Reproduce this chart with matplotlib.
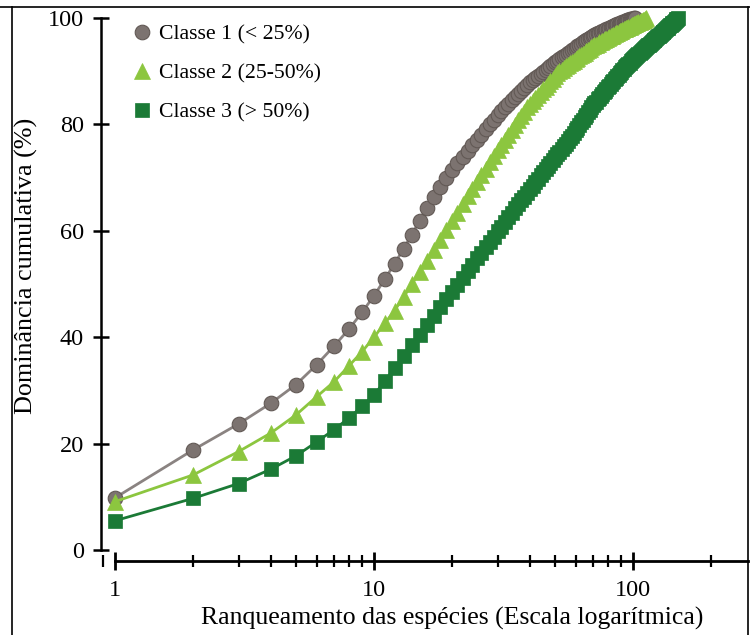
import matplotlib
matplotlib.use("Agg")
import matplotlib.pyplot as plt
from matplotlib.lines import Line2D
from matplotlib.ticker import LogLocator, NullFormatter, FixedLocator, FixedFormatter

plt.rcParams['font.family'] = ['Liberation Serif', 'DejaVu Serif']

# ---------------- data ----------------
classe1 = [9.8, 18.8, 23.7, 27.6, 31.1, 34.8, 38.3, 41.5, 44.7, 47.8,
           50.9, 53.8, 56.6, 59.3, 61.9, 64.2, 66.3, 68.2, 69.9, 71.4,
           72.7, 73.9, 75.0, 76.1, 77.1, 78.1, 79.1, 80.0, 80.9, 81.8,
           82.5, 83.2, 83.9, 84.5, 85.1, 85.7, 86.3, 86.9, 87.4, 87.9,
           88.3, 88.7, 89.1, 89.5, 89.9, 90.3, 90.6, 91.0, 91.3, 91.7,
           92.0, 92.3, 92.6, 92.9, 93.1, 93.4, 93.7, 93.9, 94.2, 94.4,
           94.7, 94.9, 95.1, 95.4, 95.6, 95.8, 96.0, 96.2, 96.5, 96.7,
           96.8, 97.0, 97.1, 97.2, 97.4, 97.5, 97.6, 97.8, 97.9, 98.0,
           98.1, 98.3, 98.4, 98.5, 98.6, 98.7, 98.8, 98.9, 99.0, 99.1,
           99.2, 99.3, 99.4, 99.5, 99.6, 99.66, 99.72, 99.78, 99.84, 99.9,
           99.95, 100.0]

classe2 = [9.1, 14.1, 18.5, 22.0, 25.4, 28.8, 31.6, 34.6, 37.3, 40.0,
           42.6, 45.0, 47.5, 50.0, 52.3, 54.4, 56.4, 58.3, 60.1, 61.8,
           63.4, 65.0, 66.5, 67.9, 69.2, 70.5, 71.7, 72.9, 74.0, 75.1,
           76.1, 77.1, 78.1, 79.0, 79.9, 80.8, 81.6, 82.4, 83.2, 83.8,
           84.4, 85.0, 85.5, 86.1, 86.6, 87.1, 87.6, 88.1, 88.6, 89.1,
           89.6, 90.0, 90.3, 90.6, 90.9, 91.2, 91.5, 91.7, 92.0, 92.3,
           92.5, 92.8, 93.0, 93.3, 93.5, 93.8, 94.0, 94.2, 94.5, 94.7,
           94.9, 95.0, 95.2, 95.4, 95.5, 95.7, 95.8, 96.0, 96.1, 96.3,
           96.4, 96.6, 96.7, 96.8, 97.0, 97.1, 97.2, 97.4, 97.5, 97.6,
           97.8, 97.9, 98.0, 98.1, 98.2, 98.3, 98.4, 98.5, 98.6, 98.7,
           98.8, 98.9, 99.0, 99.1, 99.2, 99.3, 99.4, 99.5, 99.6, 99.7,
           99.85, 100.0]

classe3 = [5.5, 9.7, 12.5, 15.2, 17.7, 20.3, 22.6, 24.8, 27.0, 29.1,
           31.75, 34.2, 36.4, 38.5, 40.5, 42.3, 44.0, 45.6, 47.1, 48.5,
           49.9, 51.2, 52.4, 53.6, 54.8, 55.9, 56.9, 57.9, 58.9, 59.9,
           60.8, 61.7, 62.6, 63.4, 64.2, 65.0, 65.7, 66.4, 67.1, 67.8,
           68.5, 69.1, 69.8, 70.4, 71.0, 71.6, 72.2, 72.7, 73.3, 73.8,
           74.4, 74.9, 75.4, 75.9, 76.4, 76.9, 77.4, 77.9, 78.4, 78.9,
           79.4, 79.9, 80.4, 80.9, 81.4, 81.8, 82.3, 82.7, 83.2, 83.6,
           84.0, 84.3, 84.7, 85.0, 85.3, 85.7, 86.0, 86.3, 86.6, 87.0,
           87.3, 87.6, 87.9, 88.2, 88.5, 88.8, 89.1, 89.3, 89.6, 89.9,
           90.2, 90.5, 90.7, 91.0, 91.2, 91.4, 91.6, 91.9, 92.1, 92.3,
           92.5, 92.7, 92.9, 93.1, 93.3, 93.5, 93.7, 93.8, 94.0, 94.2,
           94.4, 94.5, 94.7, 94.9, 95.0, 95.2, 95.3, 95.5, 95.6, 95.8,
           95.95, 96.1, 96.25, 96.4, 96.55, 96.7, 96.85, 97.0, 97.15, 97.3,
           97.45, 97.6, 97.75, 97.9, 98.05, 98.2, 98.35, 98.5, 98.6, 98.75,
           98.9, 99.0, 99.15, 99.3, 99.45, 99.6, 99.75, 99.9, 100.0]

labels = ["Classe 1 (< 25%)", "Classe 2 (25-50%)", "Classe 3 (> 50%)"]
y_ticks = [0, 20, 40, 60, 80, 100]
x_major = [1, 10, 100]
x_major_labels = ["1", "10", "100"]
xlabel = "Ranqueamento das espécies (Escala logarítmica)"
ylabel = "Dominância cumulativa (%)"

# ---------------- figure ----------------
W, H = 750, 635
fig = plt.figure(figsize=(W / 100, H / 100), dpi=100)

ax_left, ax_right = 101, 748
ax_top, ax_bottom = 12.7, 561
ax = fig.add_axes([ax_left / W, 1 - ax_bottom / H,
                   (ax_right - ax_left) / W, (ax_bottom - ax_top) / H])

styles = [
    dict(color="#8a8381", marker="o", mfc="#7c7370", mec="#625955", ms=10.5, mew=0.8, zorder=3),
    dict(color="#8cc63f", marker="^", mfc="#8cc63f", mec="#8cc63f", ms=11, mew=0.5, zorder=4),
    dict(color="#1b7a36", marker="s", mfc="#1b7a36", mec="#1b7a36", ms=10, mew=0.5, zorder=5),
]
for data, st in zip([classe1, classe2, classe3], styles):
    ranks = list(range(1, len(data) + 1))
    ax.plot(ranks, data, lw=2.0, clip_on=False, **st)

ax.set_xscale("log")
ax.set_xlim(10 ** ((ax_left - 115) / 259), 10 ** ((ax_right - 115) / 259))
ax.set_ylim((550 - ax_bottom) / 5.32, (550 - ax_top) / 5.32)

for s in ["top", "right"]:
    ax.spines[s].set_visible(False)
ax.spines["left"].set_bounds(0, 100)
ax.spines["bottom"].set_bounds(1, ax.get_xlim()[1])
ax.spines["left"].set_linewidth(1.8)
ax.spines["bottom"].set_linewidth(2.0)

ax.yaxis.set_major_locator(FixedLocator(y_ticks))
ax.xaxis.set_major_locator(FixedLocator(x_major))
ax.xaxis.set_major_formatter(FixedFormatter(x_major_labels))
ax.xaxis.set_minor_locator(LogLocator(base=10, subs=range(2, 10)))
ax.xaxis.set_minor_formatter(NullFormatter())

ax.tick_params(axis="y", which="major", direction="inout", length=11, width=1.8,
               labelsize=17.5, pad=7)
ax.tick_params(axis="x", which="major", direction="inout", length=13, width=2.0,
               labelsize=17.5, pad=7)
ax.tick_params(axis="x", which="minor", direction="inout", length=8, width=1.6)

fig.text(452 / W, 1 - 618 / H, xlabel, ha="center", va="center", fontsize=18.5)
fig.text(26 / W, 1 - 266 / H, ylabel, ha="center", va="center", rotation=90, fontsize=18.8)

handles = [Line2D([], [], linestyle="none", **{k: v for k, v in st.items() if k != "color" and k != "zorder"})
           for st in styles]
leg = fig.legend(handles, labels, loc="upper left", bbox_to_anchor=(131 / W, 1 - 24 / H),
                 bbox_transform=fig.transFigure, frameon=False, fontsize=15.7,
                 handlelength=1.0, handletextpad=0.3, labelspacing=0.87,
                 borderpad=0, borderaxespad=0)

# image border
fig.add_artist(Line2D([0, 1], [1 - 7 / H, 1 - 7 / H], transform=fig.transFigure, color="black", lw=1.2))
fig.add_artist(Line2D([12 / W, 12 / W], [0, 1 - 7 / H], transform=fig.transFigure, color="black", lw=1.2))
fig.add_artist(Line2D([748 / W, 748 / W], [0, 1 - 7 / H], transform=fig.transFigure, color="black", lw=1.2))

fig.savefig("out.png", dpi=100)
